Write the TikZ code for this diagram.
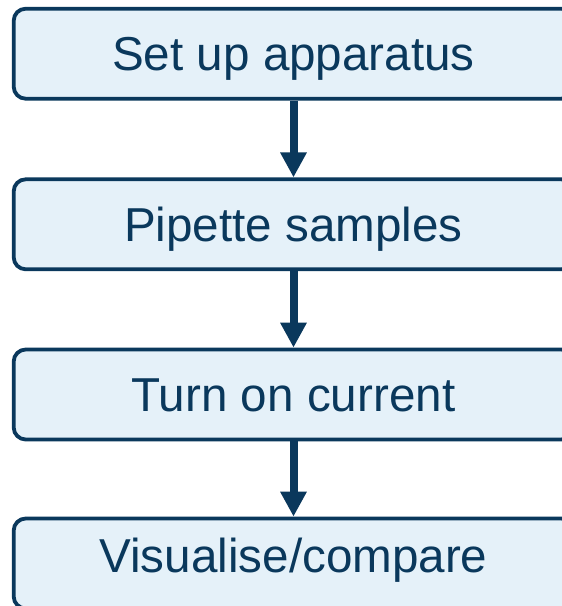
\documentclass[tikz,border=0pt]{standalone}
\usepackage{fontspec}
\setmainfont{Liberation Sans}
\usetikzlibrary{arrows.meta}
\definecolor{navy}{RGB}{10,56,92}
\definecolor{lightfill}{RGB}{229,241,249}
\tikzset{
  stepbox/.style={draw=navy, fill=lightfill, line width=3.8pt, rounded corners=12pt,
    minimum width=559.6pt, minimum height=90pt, inner sep=0pt,
    text=navy, font=\fontsize{47.6}{57}\selectfont, text height=34.2pt, text depth=0pt},
  flowarrow/.style={draw=navy, line width=8pt, -{Triangle[width=25pt,length=25pt]}, shorten >=0pt}
}
\begin{document}
\begin{tikzpicture}[x=1pt,y=1pt]
\useasboundingbox (0,0) rectangle (562,-606);
\clip (0,0) rectangle (562,-606);
\fill[white] (0,0) rectangle (562,-606);
\node[stepbox] (b1) at (293.5,-53.7) {Set up apparatus};
\node[stepbox] (b2) at (293.5,-224.3) {Pipette samples};
\node[stepbox] (b3) at (293.5,-394.5) {Turn on current};
\node[stepbox, text depth=16pt] (b4) at (293.5,-563.5) {Visualise/compare};
\draw[flowarrow] (b1.south) -- (b2.north);
\draw[flowarrow] (b2.south) -- (b3.north);
\draw[flowarrow] (b3.south) -- (b4.north);
\end{tikzpicture}
\end{document}
